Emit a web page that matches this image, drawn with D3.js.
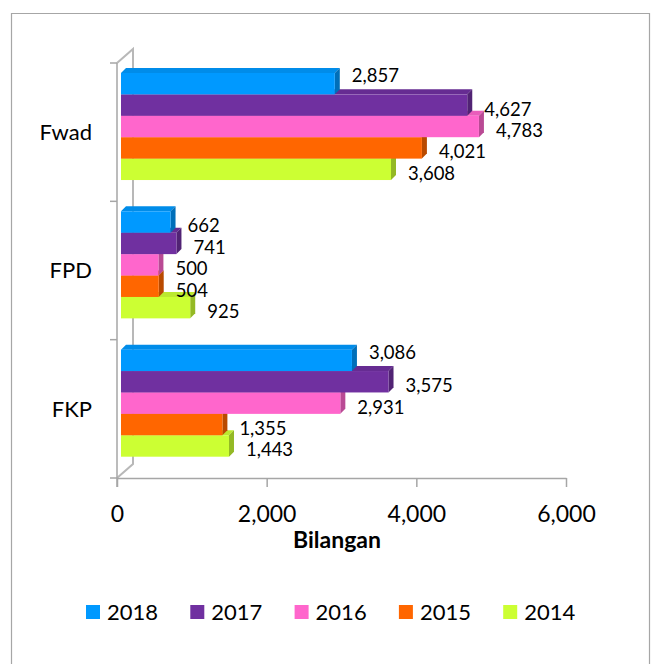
<!DOCTYPE html>
<meta charset="utf-8">
<script src="https://d3js.org/d3.v7.min.js"></script>
<style>
  body { margin: 0; background: #fff; }
  text { font-family: Lato, "Open Sans", sans-serif; fill: #000; }
</style>
<div id="chart"></div>
<script>

// data
var categories = ["Fwad", "FPD", "FKP"];
var years = ["2018", "2017", "2016", "2015", "2014"];
var colors = ["#0099ff", "#7030a0", "#ff66cc", "#ff6600", "#ccff33"];
var v2018 = [2857, 662, 3086];
var v2017 = [4627, 741, 3575];
var v2016 = [4783, 500, 2931];
var v2015 = [4021, 504, 1355];
var v2014 = [3608, 925, 1443];
var xTicks = [0, 2000, 4000, 6000];
var axisTitle = "Bilangan";

var allValues = [v2018, v2017, v2016, v2015, v2014];
var series = years.map(function (yr, i) {
    return { year: yr, color: colors[i], values: allValues[i] };
});

var width = 657, height = 664;
var svg = d3.select("#chart").append("svg")
    .attr("width", width)
    .attr("height", height);

// outer frame, open at the bottom
svg.append("path")
    .attr("d", "M11.5," + height + "V13.5H649.5V" + height)
    .attr("fill", "none")
    .attr("stroke", "#a6a6a6")
    .attr("stroke-width", 1.2);

var x = d3.scaleLinear().domain([0, 6000]).range([117, 566]);
var y0 = d3.scaleBand().domain(categories).range([63, 478]);
var y1 = d3.scaleBand().domain(years)
    .range([y0.bandwidth() * 0.072, y0.bandwidth() * 0.846]);

var wallDx = 16, wallDy = -14;   // depth of the 3d walls
var d = 5;                       // depth of the bars
var front = 4;                   // bars sit a bit in front of the left wall

// back wall + floor edges
var xl = x.range()[0], yt = y0.range()[0], yb = y0.range()[1];
svg.append("path")
    .attr("d", "M" + xl + "," + yt + "L" + (xl + wallDx) + "," + (yt + wallDy) +
        "V" + (yb + wallDy) + "L" + xl + "," + yb)
    .attr("fill", "none")
    .attr("stroke", "#b8b8b8")
    .attr("stroke-width", 2);

// left (category) axis
svg.append("line")
    .attr("x1", xl).attr("x2", xl)
    .attr("y1", yt).attr("y2", yb + 9)
    .attr("stroke", "#a6a6a6").attr("stroke-width", 1.5);

var bounds = categories.map(function (c) { return y0(c); }).concat([yb]);
svg.selectAll(".ctick")
    .data(bounds).enter()
    .append("line")
    .attr("x1", xl - 7).attr("x2", xl)
    .attr("y1", function (b) { return b; })
    .attr("y2", function (b) { return b; })
    .attr("stroke", "#a6a6a6").attr("stroke-width", 1.5);

svg.selectAll(".clabel")
    .data(categories).enter()
    .append("text")
    .attr("x", 92)
    .attr("y", function (c) { return y0(c) + y0.bandwidth() / 2; })
    .attr("dy", "0.35em")
    .attr("text-anchor", "end")
    .style("font-size", "22px")
    .text(function (c) { return c; });

// bottom (value) axis
var xAxis = svg.append("g")
    .attr("transform", "translate(0," + yb + ")")
    .call(d3.axisBottom(x).tickValues(xTicks).tickSize(9).tickSizeOuter(0)
        .tickFormat(d3.format(",")));
xAxis.select(".domain").attr("stroke", "#a6a6a6").attr("stroke-width", 1.5);
xAxis.selectAll(".tick line").attr("stroke", "#a6a6a6").attr("stroke-width", 1.5);
xAxis.selectAll(".tick text")
    .attr("y", 28)
    .style("font-size", "23px")
    .style("font-family", "Lato, sans-serif")
    .attr("fill", "#000");

svg.append("text")
    .attr("x", 337)
    .attr("y", 548)
    .attr("text-anchor", "middle")
    .style("font-size", "23px")
    .style("font-weight", "bold")
    .text(axisTitle);

// bars, drawn from the bottom row up so the upper bars cover the top faces
var rows = [];
series.forEach(function (s, si) {
    categories.forEach(function (c, ci) {
        rows.push({ s: s, si: si, c: c, ci: ci, v: s.values[ci] });
    });
});
rows.sort(function (a, b) { return b.si - a.si; });

var bars = svg.selectAll(".bar")
    .data(rows).enter()
    .append("g");

function pts(p) { return p.map(function (q) { return q.join(","); }).join(" "); }

bars.append("polygon")   // top face
    .attr("points", function (r) {
        var x0 = x(0) + front, x1 = x(r.v) + front, t = y0(r.c) + y1(r.s.year);
        return pts([[x0, t], [x0 + d, t - d], [x1 + d, t - d], [x1, t]]);
    })
    .attr("fill", function (r) { return d3.color(r.s.color).darker(0.25); });

bars.append("polygon")   // side face
    .attr("points", function (r) {
        var x1 = x(r.v) + front, t = y0(r.c) + y1(r.s.year), h = y1.bandwidth();
        return pts([[x1, t], [x1 + d, t - d], [x1 + d, t + h - d], [x1, t + h]]);
    })
    .attr("fill", function (r) { return d3.color(r.s.color).darker(0.9); });

bars.append("rect")      // front face
    .attr("x", x(0) + front)
    .attr("y", function (r) { return y0(r.c) + y1(r.s.year); })
    .attr("width", function (r) { return x(r.v) - x(0); })
    .attr("height", y1.bandwidth())
    .attr("fill", function (r) { return r.s.color; });

// value labels; nudge up when the bar below pokes under the label
svg.selectAll(".vlabel")
    .data(rows).enter()
    .append("text")
    .attr("x", function (r) { return x(r.v) + 21; })
    .attr("y", function (r) {
        var yy = y0(r.c) + y1(r.s.year) + y1.bandwidth() / 2 + 4;
        if (r.si < series.length - 1) {
            var below = series[r.si + 1].values[r.ci];
            if (x(below) + 9 - (x(r.v) + 21) > 22) yy -= 12;
        }
        return yy;
    })
    .attr("dy", "0.35em")
    .style("font-size", "18.5px")
    .text(function (r) { return d3.format(",")(r.v); });

// legend
var legend = svg.selectAll(".legend")
    .data(series).enter()
    .append("g")
    .attr("transform", function (s, i) { return "translate(" + (86 + i * 104.3) + ",605)"; });
legend.append("rect")
    .attr("width", 14).attr("height", 14)
    .attr("fill", function (s) { return s.color; });
legend.append("text")
    .attr("x", 21)
    .attr("y", 15)
    .style("font-size", "22px")
    .text(function (s) { return s.year; });

</script>
